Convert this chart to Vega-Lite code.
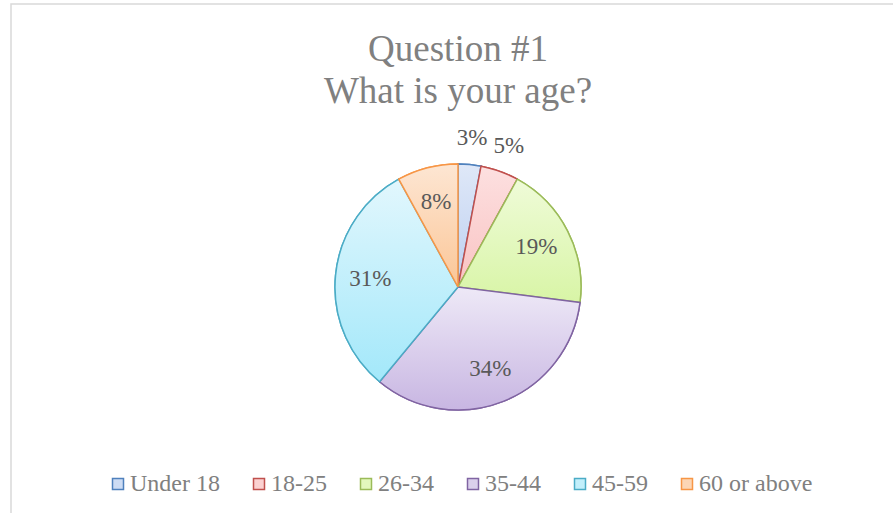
{
  "$schema": "https://vega.github.io/schema/vega-lite/v6.json",
  "width": 894,
  "height": 566,
  "autosize": {"type": "none"},
  "padding": {"left": 11, "top": 4, "right": 0, "bottom": 0},
  "background": "white",
  "view": {"stroke": "#d9d9d9", "strokeWidth": 1.5, "fill": "white"},
  "config": {
    "view": {"stroke": "#d9d9d9", "strokeWidth": 1.5},
    "legend": {
      "orient": "none",
      "legendX": 95,
      "legendY": 468,
      "direction": "horizontal",
      "columns": 6,
      "symbolType": "square",
      "symbolSize": 121,
      "symbolStrokeWidth": 1.5,
      "labelFont": "Liberation Serif",
      "labelFontSize": 24,
      "labelColor": "#808080",
      "labelOffset": 0,
      "columnPadding": 27,
      "padding": 0,
      "title": null
    }
  },
  "title": {
    "text": ["Question #1", "What is your age?"],
    "font": "Liberation Serif",
    "fontSize": 37,
    "fontWeight": "normal",
    "color": "#808080",
    "lineHeight": 42,
    "offset": -136,
    "baseline": "alphabetic",
    "anchor": "middle",
    "frame": "group"
  },
  "data": {
    "values": [
      {"age": "Under 18", "share": 0.03, "o": 1},
      {"age": "18-25", "share": 0.05, "o": 2},
      {"age": "26-34", "share": 0.19, "o": 3},
      {"age": "35-44", "share": 0.34, "o": 4},
      {"age": "45-59", "share": 0.31, "o": 5},
      {"age": "60 or above", "share": 0.08, "o": 6}
    ]
  },
  "transform": [
    {"stack": "share", "groupby": [], "sort": [{"field": "o", "order": "ascending"}], "as": ["s0", "s1"]}
  ],
  "layer": [
    {
      "mark": {"type": "arc", "outerRadius": 123, "strokeWidth": 1.5},
      "encoding": {
        "theta": {"field": "s0", "type": "quantitative", "scale": {"domain": [0, 1]}},
        "theta2": {"field": "s1"},
        "fill": {
          "field": "age",
          "type": "nominal",
          "sort": null,
          "scale": {
            "domain": ["Under 18", "18-25", "26-34", "35-44", "45-59", "60 or above"],
            "range": ["#cddcf4", "#fbd1d1", "#e3f8bd", "#dbd0ec", "#c2effb", "#fcd6b5"]
          }
        },
        "stroke": {
          "field": "age",
          "type": "nominal",
          "sort": null,
          "scale": {
            "domain": ["Under 18", "18-25", "26-34", "35-44", "45-59", "60 or above"],
            "range": ["#4f81bd", "#c0504d", "#9bbb59", "#8064a2", "#4bacc6", "#f79646"]
          }
        }
      }
    },
    {
      "transform": [{"filter": "datum.age === 'Under 18'"}],
      "mark": {"type": "arc", "outerRadius": 123, "strokeWidth": 1.5, "stroke": "#4f81bd",
        "fill": {"gradient": "linear", "x1": 0, "y1": 0, "x2": 0, "y2": 1, "stops": [{"offset": 0, "color": "#dfe8f8"}, {"offset": 1, "color": "#bccff0"}]}},
      "encoding": {"theta": {"field": "s0", "type": "quantitative"}, "theta2": {"field": "s1"}}
    },
    {
      "transform": [{"filter": "datum.age === '18-25'"}],
      "mark": {"type": "arc", "outerRadius": 123, "strokeWidth": 1.5, "stroke": "#c0504d",
        "fill": {"gradient": "linear", "x1": 0, "y1": 0, "x2": 0, "y2": 1, "stops": [{"offset": 0, "color": "#fde0e0"}, {"offset": 1, "color": "#f9c3c3"}]}},
      "encoding": {"theta": {"field": "s0", "type": "quantitative"}, "theta2": {"field": "s1"}}
    },
    {
      "transform": [{"filter": "datum.age === '26-34'"}],
      "mark": {"type": "arc", "outerRadius": 123, "strokeWidth": 1.5, "stroke": "#9bbb59",
        "fill": {"gradient": "linear", "x1": 0, "y1": 0, "x2": 0, "y2": 1, "stops": [{"offset": 0, "color": "#effbd8"}, {"offset": 1, "color": "#d8f5a6"}]}},
      "encoding": {"theta": {"field": "s0", "type": "quantitative"}, "theta2": {"field": "s1"}}
    },
    {
      "transform": [{"filter": "datum.age === '35-44'"}],
      "mark": {"type": "arc", "outerRadius": 123, "strokeWidth": 1.5, "stroke": "#8064a2",
        "fill": {"gradient": "linear", "x1": 0, "y1": 0, "x2": 0, "y2": 1, "stops": [{"offset": 0, "color": "#eee9f7"}, {"offset": 1, "color": "#c8b6e2"}]}},
      "encoding": {"theta": {"field": "s0", "type": "quantitative"}, "theta2": {"field": "s1"}}
    },
    {
      "transform": [{"filter": "datum.age === '45-59'"}],
      "mark": {"type": "arc", "outerRadius": 123, "strokeWidth": 1.5, "stroke": "#4bacc6",
        "fill": {"gradient": "linear", "x1": 0, "y1": 0, "x2": 0, "y2": 1, "stops": [{"offset": 0, "color": "#e2f7fd"}, {"offset": 1, "color": "#a3e8fa"}]}},
      "encoding": {"theta": {"field": "s0", "type": "quantitative"}, "theta2": {"field": "s1"}}
    },
    {
      "transform": [{"filter": "datum.age === '60 or above'"}],
      "mark": {"type": "arc", "outerRadius": 123, "strokeWidth": 1.5, "stroke": "#f79646",
        "fill": {"gradient": "linear", "x1": 0, "y1": 0, "x2": 0, "y2": 1, "stops": [{"offset": 0, "color": "#fde6d3"}, {"offset": 1, "color": "#fbc697"}]}},
      "encoding": {"theta": {"field": "s0", "type": "quantitative"}, "theta2": {"field": "s1"}}
    },
    {
      "mark": {"type": "text", "radius": 88, "font": "Liberation Serif", "fontSize": 23, "color": "#595959", "baseline": "middle", "align": "center"},
      "encoding": {
        "theta": {"field": "share", "type": "quantitative", "stack": true},
        "order": {"field": "o", "type": "quantitative"},
        "text": {"condition": {"test": "datum.share < 0.06", "value": ""}, "field": "share", "type": "quantitative", "format": ".0%"}
      }
    },
    {
      "mark": {"type": "text", "radius": 150, "font": "Liberation Serif", "fontSize": 23, "color": "#595959", "baseline": "middle", "align": "center"},
      "encoding": {
        "theta": {"field": "share", "type": "quantitative", "stack": true},
        "order": {"field": "o", "type": "quantitative"},
        "text": {"condition": {"test": "datum.share >= 0.06", "value": ""}, "field": "share", "type": "quantitative", "format": ".0%"}
      }
    }
  ]
}
